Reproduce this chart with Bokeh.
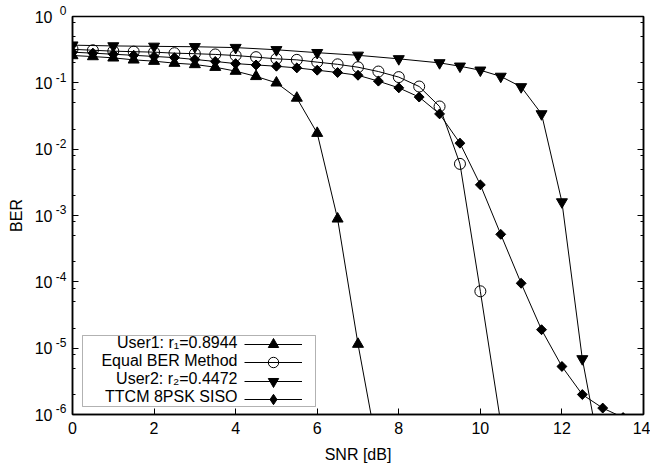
from bokeh.plotting import figure
from bokeh.models import (FixedTicker, LogAxis, CustomJSTickFormatter, Legend, LegendItem,
                          Label, BoxAnnotation, Range1d)
from bokeh.embed import file_html
from bokeh.resources import INLINE

# ---------------- data ----------------
user1_snr = [0, 0.5, 1, 1.5, 2, 2.5, 3, 3.5, 4, 4.5, 5, 5.5, 6, 6.5, 7, 7.5]
user1_ber = [0.258, 0.249, 0.238, 0.222, 0.212, 0.198, 0.189, 0.172, 0.15, 0.125,
             0.1, 0.059, 0.0174, 8.9e-4, 1.15e-5, 2.5e-7]

equal_snr = [0, 0.5, 1, 1.5, 2, 2.5, 3, 3.5, 4, 4.5, 5, 5.5, 6, 6.5, 7, 7.5, 8, 8.5,
             9, 9.5, 10, 10.5]
equal_ber = [0.32, 0.31, 0.30, 0.295, 0.29, 0.28, 0.275, 0.268, 0.258, 0.244, 0.23,
             0.222, 0.205, 0.19, 0.172, 0.148, 0.122, 0.088, 0.044, 0.006, 7.2e-5, 7.5e-7]

user2_snr = [0, 1, 2, 3, 4, 5, 6, 7, 8, 9, 9.5, 10, 10.5, 11, 11.5, 12, 12.5, 13]
user2_ber = [0.37, 0.36, 0.355, 0.35, 0.34, 0.315, 0.285, 0.26, 0.23, 0.2, 0.178,
             0.155, 0.125, 0.087, 0.034, 0.0016, 6.9e-6, 1.6e-7]

ttcm_snr = [0, 0.5, 1, 1.5, 2, 2.5, 3, 3.5, 4, 4.5, 5, 5.5, 6, 6.5, 7, 7.5, 8, 8.5,
            9, 9.5, 10, 10.5, 11, 11.5, 12, 12.5, 13, 13.5]
ttcm_ber = [0.29, 0.28, 0.27, 0.26, 0.25, 0.24, 0.225, 0.21, 0.195, 0.186, 0.178,
            0.168, 0.155, 0.143, 0.13, 0.106, 0.084, 0.061, 0.034, 0.0123, 0.0029,
            5.2e-4, 9.5e-5, 1.9e-5, 5.3e-6, 2.0e-6, 1.25e-6, 9e-7]

series_labels = ["User1: r\u2081=0.8944", "Equal BER Method",
                 "User2: r\u2082=0.4472", "TTCM 8PSK SISO"]

x_ticks = [0, 2, 4, 6, 8, 10, 12, 14]
x_tick_labels = ["0", "2", "4", "6", "8", "10", "12", "14"]
y_ticks = [1e-6, 1e-5, 1e-4, 1e-3, 1e-2, 1e-1, 1]
y_tick_base = "10"
y_tick_exponents = ["-6", "-5", "-4", "-3", "-2", "-1", "0"]
y_minor_mult = [2, 5, 8]

FONT = "Liberation Sans"

p = figure(width=650, height=466, y_axis_type="log", output_backend="svg",
           toolbar_location=None, x_range=Range1d(0, 14), y_range=Range1d(1e-6, 1),
           min_border_left=72, min_border_right=7, min_border_top=16, min_border_bottom=52)
p.frame_width = 571
p.frame_height = 398
p.grid.visible = False
p.outline_line_color = "black"
p.outline_line_width = 1.5
p.background_fill_color = "white"

minor = [m * t for t in y_ticks[:-1] for m in y_minor_mult]
yticker = FixedTicker(ticks=y_ticks, minor_ticks=minor)

xa = p.xaxis[0]
xa.ticker = FixedTicker(ticks=x_ticks)
xa.major_label_overrides = {t: l for t, l in zip(x_ticks, x_tick_labels)}
xa.axis_label = "SNR [dB]"

# inner left axis: ticks + exponent (superscript) part of the labels
ya = p.yaxis[0]
ya.ticker = yticker
ya.formatter = CustomJSTickFormatter(
    args=dict(exps=y_tick_exponents),
    code="return exps[Math.round(Math.log10(tick)) + 6] + '\\n ';")

# outer left axis: the "10" base of the labels + axis title
ybase = LogAxis(ticker=yticker,
                formatter=CustomJSTickFormatter(args=dict(base=y_tick_base), code="return base;"),
                axis_label="BER")
p.add_layout(ybase, "left")

right = LogAxis(ticker=yticker, formatter=CustomJSTickFormatter(code="return '';"))
p.add_layout(right, "right")

for ax in [xa, ya, right, ybase]:
    ax.major_tick_in = 6
    ax.major_tick_out = 0
    ax.minor_tick_in = 3
    ax.minor_tick_out = 0
    ax.major_tick_line_color = "black"
    ax.minor_tick_line_color = "black"
    ax.axis_line_color = "black"
    ax.axis_line_width = 1.5
    ax.major_label_text_font = FONT
    ax.major_label_text_font_size = "16px"
    ax.major_label_text_color = "black"
    ax.axis_label_text_font = FONT
    ax.axis_label_text_font_size = "16px"
    ax.axis_label_text_font_style = "normal"
    ax.axis_label_text_color = "black"
xa.minor_tick_line_color = None
xa.major_label_standoff = 7
xa.axis_label_standoff = 9
ya.major_label_standoff = 6
ya.major_label_text_font_size = "12px"
ya.major_label_text_line_height = 0.75
ybase.major_tick_line_color = None
ybase.minor_tick_line_color = None
ybase.axis_line_color = None
ybase.major_tick_in = 0
ybase.minor_tick_in = 0
ybase.major_label_standoff = 0
ybase.axis_label_standoff = 7
right.major_label_standoff = 0

specs = [
    (user1_snr, user1_ber, dict(marker="triangle", size=11, fill_color="black")),
    (equal_snr, equal_ber, dict(marker="circle", size=11, fill_color=None)),
    (user2_snr, user2_ber, dict(marker="inverted_triangle", size=11, fill_color="black")),
    (ttcm_snr, ttcm_ber, dict(marker="square", size=7, angle=0.785398, fill_color="black")),
]
legend_renderers = []
for i, (xs, ys, mk) in enumerate(specs):
    ln = p.line(xs, ys, line_color="black", line_width=1)
    if i == 3:
        # diamond proxy (hidden below the rotated squares) so the key shows a diamond
        proxy = p.scatter(xs, ys, marker="diamond", size=9, line_color="black",
                          fill_color="black")
    sc = p.scatter(xs, ys, line_color="black", line_width=1, **mk)
    legend_renderers.append([ln, proxy if i == 3 else sc])

# legend frame + right-aligned texts (gnuplot style: text then sample)
p.add_layout(BoxAnnotation(left=10, right=243, bottom=8, top=79,
                           left_units="screen", right_units="screen",
                           bottom_units="screen", top_units="screen",
                           fill_color="white", fill_alpha=1,
                           line_color="black", line_width=1))
text_y = [72, 54, 36, 18]
for lab, yy in zip(series_labels, text_y):
    p.add_layout(Label(x=165, y=yy, x_units="screen", y_units="screen", text=lab,
                       text_align="right", text_baseline="middle",
                       text_font=FONT, text_font_size="16px", text_color="black"))

key_bottom = [57, 39, 20, 2]
for rends, kb in zip(legend_renderers, key_bottom):
    p.add_layout(Legend(items=[LegendItem(label=" ", renderers=rends)],
                        location=(172, kb), padding=0, margin=0, spacing=0,
                        glyph_width=58, glyph_height=26, label_width=0, label_height=26,
                        label_standoff=0, label_text_font_size="1px",
                        border_line_alpha=0, background_fill_alpha=0))

open("out.html", "w").write(file_html(p, INLINE))
